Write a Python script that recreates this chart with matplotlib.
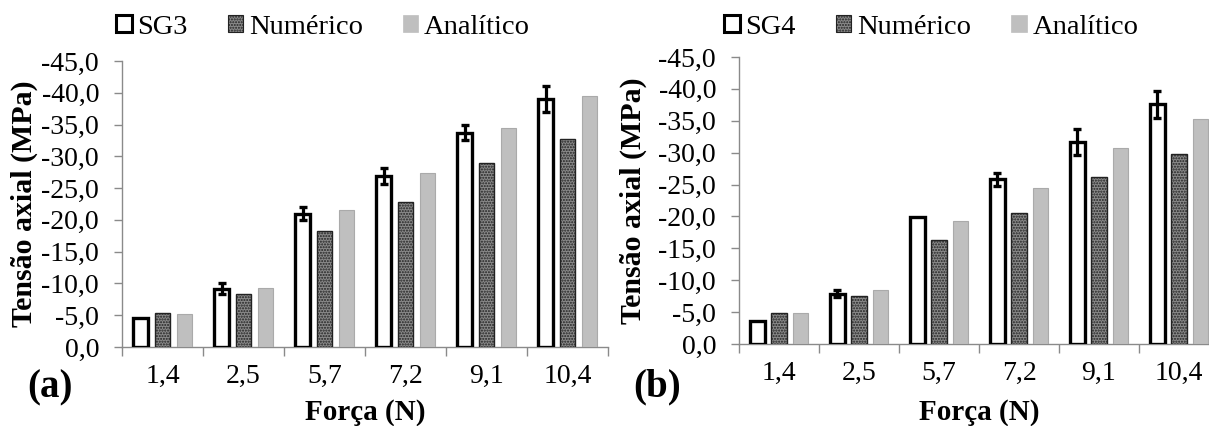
import matplotlib
matplotlib.use("Agg")
import matplotlib.pyplot as plt
import numpy as np
from matplotlib.patches import Patch

plt.rcParams['font.family'] = ['Liberation Serif', 'DejaVu Serif']

forces = ['1,4', '2,5', '5,7', '7,2', '9,1', '10,4']

# panel (a) - SG3
sg3 = [-4.5, -9.2, -21.0, -26.9, -33.7, -39.0]
sg3_err = [0.0, 0.9, 1.0, 1.2, 1.2, 2.0]
num_a = [-5.3, -8.4, -18.2, -22.8, -28.9, -32.8]
ana_a = [-5.2, -9.3, -21.5, -27.3, -34.5, -39.5]

# panel (b) - SG4
sg4 = [-3.6, -7.9, -19.9, -25.8, -31.7, -37.6]
sg4_err = [0.0, 0.5, 0.0, 1.0, 2.0, 2.1]
num_b = [-4.9, -7.6, -16.3, -20.6, -26.2, -29.8]
ana_b = [-4.9, -8.5, -19.3, -24.5, -30.8, -35.3]

yticks = [0, -5, -10, -15, -20, -25, -30, -35, -40, -45]

W, H = 1209, 426
fig = plt.figure(figsize=(W / 100, H / 100), dpi=100)

spine_c = '#8a8a8a'
num_face = '#8a8a8a'
ana_face = '#bfbfbf'


def draw_panel(rect, meas, err, num, ana, name, leg_x, letter, letter_xy,
               ylab_x):
    ax = fig.add_axes(rect)
    x = np.arange(len(forces)) + 0.5
    bw = 0.19
    ax.bar(x - 0.27, meas, bw, facecolor='white', edgecolor='black',
           linewidth=2.4, zorder=3)
    ax.bar(x, num, bw, facecolor=num_face, edgecolor='#222222',
           linewidth=1.0, hatch='......', zorder=3)
    ax.bar(x + 0.27, ana, bw, facecolor=ana_face, edgecolor='#aaaaaa',
           linewidth=0.8, zorder=3)
    e = np.array(err)
    m = e > 0
    ax.errorbar((x - 0.27)[m], np.array(meas)[m], yerr=e[m], fmt='none',
                ecolor='black', elinewidth=2.3, capsize=3.2, capthick=2.4,
                zorder=4)

    ax.set_xlim(0, 6)
    ax.set_ylim(0, -45)
    ax.set_yticks(yticks)
    ax.set_yticklabels([f'{v:.1f}'.replace('.', ',') for v in yticks])
    ax.set_xticks(np.arange(0, 7))
    ax.set_xticklabels([])
    ax.set_xticks(x, minor=True)
    ax.set_xticklabels(forces, minor=True)
    ax.tick_params(axis='x', which='major', direction='out', length=6.5,
                   color=spine_c, width=1)
    ax.tick_params(axis='x', which='minor', length=0, pad=12, labelsize=20)
    ax.tick_params(axis='y', direction='out', length=5.5, color=spine_c,
                   width=1, pad=11, labelsize=20)
    for s in ['top', 'right']:
        ax.spines[s].set_visible(False)
    for s in ['left', 'bottom']:
        ax.spines[s].set_color(spine_c)
        ax.spines[s].set_linewidth(1)

    handles = [
        Patch(facecolor='white', edgecolor='black', linewidth=2.2),
        Patch(facecolor=num_face, edgecolor='#222222', linewidth=0.8,
              hatch='......'),
        Patch(facecolor=ana_face, edgecolor=ana_face, linewidth=0.5),
    ]
    fig.legend(handles, [name, 'Numérico', 'Analítico'], ncol=3,
               loc='center left',
               bbox_to_anchor=(leg_x / W, 1 - 27 / H),
               frameon=False, fontsize=20.5, handlelength=0.55,
               handleheight=0.55, handletextpad=0.2, columnspacing=1.4,
               borderpad=0, borderaxespad=0)

    fig.text(ylab_x / W, rect[1] + rect[3] / 2, 'Tensão axial (MPa)',
             rotation=90, ha='center', va='center', fontsize=21.5,
             fontweight='bold')
    fig.text(letter_xy[0] / W, 1 - letter_xy[1] / H, letter, ha='center',
             va='center', fontsize=28, fontweight='bold')
    return ax


ax1 = draw_panel([122 / W, 79 / H, 486 / W, 286 / H], sg3, sg3_err, num_a,
                 ana_a, 'SG3', 116, '(a)', (50, 388), 24)
ax2 = draw_panel([739 / W, 82 / H, 480 / W, 287 / H], sg4, sg4_err, num_b,
                 ana_b, 'SG4', 724, '(b)', (657, 387), 633)

fig.text((122 + 243) / W, 1 - 412 / H, 'Força (N)', ha='center',
         va='center', fontsize=21, fontweight='bold')
fig.text((739 + 240) / W, 1 - 412 / H, 'Força (N)', ha='center',
         va='center', fontsize=21, fontweight='bold')

fig.savefig('out.png', dpi=100)
